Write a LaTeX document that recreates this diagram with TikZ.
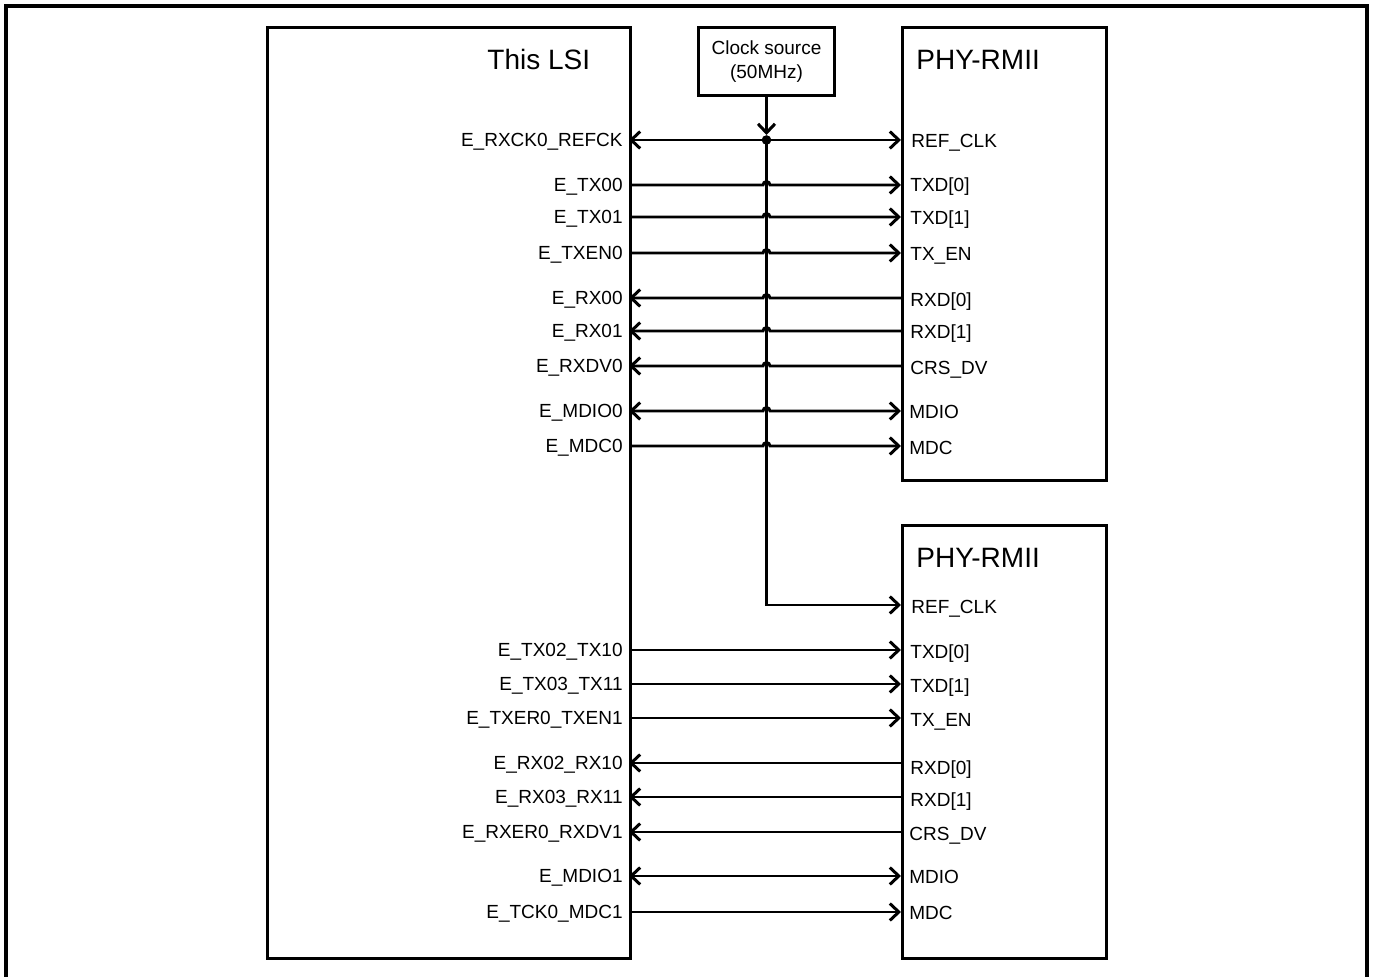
\documentclass[tikz,border=0pt]{standalone}
\usepackage{fontspec}
\setmainfont{Liberation Sans}
\usetikzlibrary{arrows.meta,calc}
\begin{document}
\begin{tikzpicture}[x=0.5pt,y=-0.5pt,
  box/.style={draw, line width=1.7pt, inner sep=0pt, anchor=north west},
  barb/.tip={Straight Barb[length=4.5pt,width=8.5pt,line width=1.5pt]},
  sig/.style={line width=1.45pt},
  tx/.style={-{barb}},
  rx/.style={{barb}-},
  bd/.style={{barb}-{barb}},
  pinL/.style={anchor=base east, yshift=-3.4pt, inner sep=0pt, font=\fontsize{9.5}{11}\selectfont},
  pinR/.style={anchor=base west, yshift=-3.4pt, inner sep=0pt, font=\fontsize{9.5}{11}\selectfont},
  ttl/.style={inner sep=0pt, font=\fontsize{14}{16}\selectfont}]
\useasboundingbox (0,0) rectangle (1373,977);
% outer frame
\draw[line width=1.7pt] (6,977) -- (6,6) -- (1367,6) -- (1367,977);
% boxes
\node[box, minimum width=181.5pt, minimum height=465.5pt] (lsi) at (266,26) {};
\node[box, line width=1.5pt, minimum width=68pt, minimum height=34pt] (clkbox) at (697,26) {};
\node[align=center, inner sep=0pt, font=\fontsize{9.5}{12}\selectfont] (clk) at (clkbox.center) {Clock source\\(50MHz)};
\node[box, minimum width=102pt, minimum height=226.5pt] (phyA) at (901,26) {};
\node[box, minimum width=102pt, minimum height=216.5pt] (phyB) at (901,524) {};
% titles
\node[ttl, anchor=west] (tLSI) at (487,60) {This LSI};
\node[ttl, anchor=west] (tA) at (916,60) {PHY-RMII};
\node[ttl, anchor=west] (tB) at (916,558) {PHY-RMII};
% pin coordinates (LSI side a*, PHY side b*)
\coordinate (a1) at (629,140); \coordinate (b1) at (901,140);
\coordinate (a2) at (629,185); \coordinate (b2) at (901,185);
\coordinate (a3) at (629,217); \coordinate (b3) at (901,217);
\coordinate (a4) at (629,253); \coordinate (b4) at (901,253);
\coordinate (a5) at (629,298); \coordinate (b5) at (901,298);
\coordinate (a6) at (629,331); \coordinate (b6) at (901,331);
\coordinate (a7) at (629,366); \coordinate (b7) at (901,366);
\coordinate (a8) at (629,411); \coordinate (b8) at (901,411);
\coordinate (a9) at (629,446); \coordinate (b9) at (901,446);
\coordinate (b10) at (901,605);
\coordinate (a11) at (629,650); \coordinate (b11) at (901,650);
\coordinate (a12) at (629,684); \coordinate (b12) at (901,684);
\coordinate (a13) at (629,718); \coordinate (b13) at (901,718);
\coordinate (a14) at (629,763); \coordinate (b14) at (901,763);
\coordinate (a15) at (629,797); \coordinate (b15) at (901,797);
\coordinate (a16) at (629,832); \coordinate (b16) at (901,832);
\coordinate (a17) at (629,876); \coordinate (b17) at (901,876);
\coordinate (a18) at (629,912); \coordinate (b18) at (901,912);
% left labels
\node[pinL] (l1) at (623,140) {E\_RXCK0\_REFCK};
\node[pinL] (l2) at (623,185) {E\_TX00};
\node[pinL] (l3) at (623,217) {E\_TX01};
\node[pinL] (l4) at (623,253) {E\_TXEN0};
\node[pinL] (l5) at (623,298) {E\_RX00};
\node[pinL] (l6) at (623,331) {E\_RX01};
\node[pinL] (l7) at (623,366) {E\_RXDV0};
\node[pinL] (l8) at (623,411) {E\_MDIO0};
\node[pinL] (l9) at (623,446) {E\_MDC0};
\node[pinL] (l11) at (623,650) {E\_TX02\_TX10};
\node[pinL] (l12) at (623,684) {E\_TX03\_TX11};
\node[pinL] (l13) at (623,718) {E\_TXER0\_TXEN1};
\node[pinL] (l14) at (623,763) {E\_RX02\_RX10};
\node[pinL] (l15) at (623,797) {E\_RX03\_RX11};
\node[pinL] (l16) at (623,832) {E\_RXER0\_RXDV1};
\node[pinL] (l17) at (623,876) {E\_MDIO1};
\node[pinL] (l18) at (623,912) {E\_TCK0\_MDC1};
% right labels
\node[pinR] (r1) at (911,141) {REF\_CLK};
\node[pinR] (r2) at (910,185) {TXD[0]};
\node[pinR] (r3) at (910,218) {TXD[1]};
\node[pinR] (r4) at (910,254) {TX\_EN};
\node[pinR] (r5) at (910,300) {RXD[0]};
\node[pinR] (r6) at (910,332) {RXD[1]};
\node[pinR] (r7) at (910,368) {CRS\_DV};
\node[pinR] (r8) at (909,412) {MDIO};
\node[pinR] (r9) at (909,448) {MDC};
\node[pinR] (r10) at (911,607) {REF\_CLK};
\node[pinR] (r11) at (910,652) {TXD[0]};
\node[pinR] (r12) at (910,686) {TXD[1]};
\node[pinR] (r13) at (910,720) {TX\_EN};
\node[pinR] (r14) at (910,768) {RXD[0]};
\node[pinR] (r15) at (910,800) {RXD[1]};
\node[pinR] (r16) at (909,834) {CRS\_DV};
\node[pinR] (r17) at (909,877) {MDIO};
\node[pinR] (r18) at (909,913) {MDC};
% clock distribution
\draw[sig,tx] (clkbox.south) -- ($(a1 -| clkbox.south)+(0,-5)$);
\draw[sig,bd] (a1) -- (b1);
\fill (a1 -| clkbox.south) circle[radius=2.4pt];
\draw[sig,tx] (a1 -| clkbox.south) |- (b10);
% PHY A signals (hop over clock line)
\draw[sig,tx] (a2) -- ($(a2 -| clkbox.south)+(-3.5,0)$) arc[start angle=180,end angle=0,radius=1.75pt] -- (b2);
\draw[sig,tx] (a3) -- ($(a3 -| clkbox.south)+(-3.5,0)$) arc[start angle=180,end angle=0,radius=1.75pt] -- (b3);
\draw[sig,tx] (a4) -- ($(a4 -| clkbox.south)+(-3.5,0)$) arc[start angle=180,end angle=0,radius=1.75pt] -- (b4);
\draw[sig,rx] (a5) -- ($(a5 -| clkbox.south)+(-3.5,0)$) arc[start angle=180,end angle=0,radius=1.75pt] -- (b5);
\draw[sig,rx] (a6) -- ($(a6 -| clkbox.south)+(-3.5,0)$) arc[start angle=180,end angle=0,radius=1.75pt] -- (b6);
\draw[sig,rx] (a7) -- ($(a7 -| clkbox.south)+(-3.5,0)$) arc[start angle=180,end angle=0,radius=1.75pt] -- (b7);
\draw[sig,bd] (a8) -- ($(a8 -| clkbox.south)+(-3.5,0)$) arc[start angle=180,end angle=0,radius=1.75pt] -- (b8);
\draw[sig,tx] (a9) -- ($(a9 -| clkbox.south)+(-3.5,0)$) arc[start angle=180,end angle=0,radius=1.75pt] -- (b9);
% PHY B signals
\draw[sig,tx] (a11) -- (b11);
\draw[sig,tx] (a12) -- (b12);
\draw[sig,tx] (a13) -- (b13);
\draw[sig,rx] (a14) -- (b14);
\draw[sig,rx] (a15) -- (b15);
\draw[sig,rx] (a16) -- (b16);
\draw[sig,bd] (a17) -- (b17);
\draw[sig,tx] (a18) -- (b18);
\end{tikzpicture}
\end{document}
